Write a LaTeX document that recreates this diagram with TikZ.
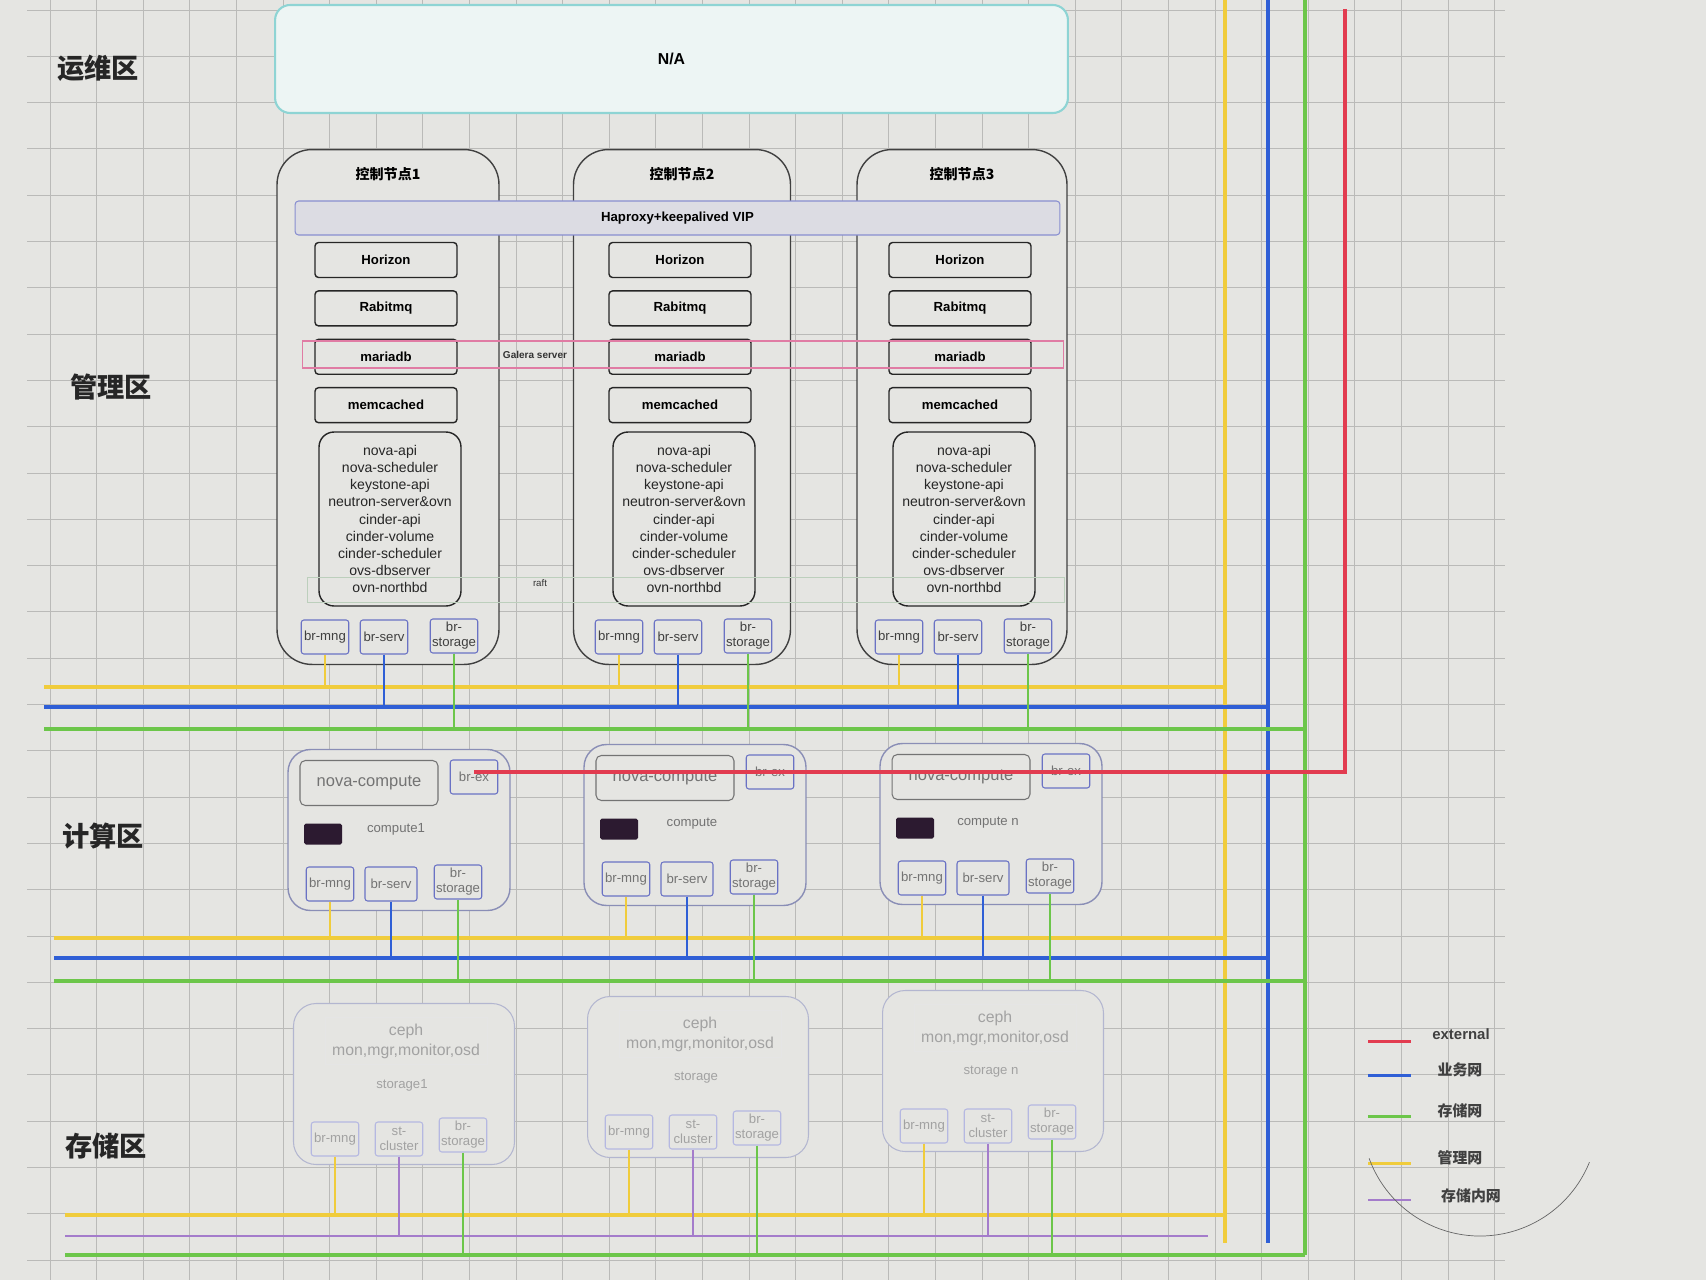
\documentclass[tikz,border=0pt]{standalone}
\usepackage{fontspec}
\setmainfont{Liberation Sans}
\newfontfamily\cjk{Noto Sans CJK SC}
\usetikzlibrary{positioning}
\definecolor{bgpaper}{HTML}{E5E5E2}
\definecolor{gridln}{HTML}{BABAB8}
\definecolor{mngnet}{HTML}{F0CC3C}
\definecolor{servnet}{HTML}{2F5FD6}
\definecolor{stornet}{HTML}{6CC64A}
\definecolor{extnet}{HTML}{E23C50}
\definecolor{clusnet}{HTML}{A47CCB}
\definecolor{naline}{HTML}{8ED4D4}
\definecolor{brline}{HTML}{6A72C4}
\definecolor{compline}{HTML}{8A8EB6}
\definecolor{galline}{HTML}{E07CA4}
\definecolor{raftline}{HTML}{BCCFBC}
\definecolor{darkbox}{HTML}{2C1A30}
\definecolor{fadetext}{HTML}{A2A2A2}
\tikzset{
    % grid of the drawing canvas
    gridline/.style={draw=gridln, line width=0.5pt},
    % zone titles on the left
    zone/.style={font=\cjk\bfseries\fontsize{15.5}{18}\selectfont, text=black!85},
    % operations area box
    nabox/.style={
           rectangle,
           rounded corners=0.3cm,
           draw=naline, line width=1.2pt, fill=bgpaper!92!cyan!40!white,
           font=\bfseries\fontsize{9}{11}\selectfont},
    % outer box of a control node
    ctrlbox/.style={
           rectangle,
           rounded corners=0.7cm,
           draw=black!75, thick, fill=bgpaper,
           minimum height=10.3cm},
    ctrltitle/.style={font=\cjk\bfseries\fontsize{8}{9}\selectfont},
    svc/.style={
           rectangle,
           rounded corners=2pt,
           draw=black!85, thick,
           minimum width=2.84cm,
           minimum height=0.7cm,
           font=\bfseries\fontsize{7.5}{9}\selectfont},
    svclist/.style={
           rectangle,
           rounded corners=0.3cm,
           draw=black!85, thick,
           minimum width=2.84cm,
           minimum height=3.48cm,
           align=center, text=black!85,
           font=\fontsize{8}{9.75}\selectfont},
    brbox/.style={
           rectangle,
           rounded corners=1.5pt,
           draw=brline, semithick,
           minimum width=0.95cm,
           minimum height=0.68cm,
           inner sep=0pt, align=center, text=black!75,
           font=\fontsize{7.5}{8.5}\selectfont},
    vipbar/.style={
           rectangle,
           rounded corners=2pt,
           draw=brline!80, semithick, fill=bgpaper!96!blue,
           minimum width=15.3cm,
           minimum height=0.68cm,
           font=\bfseries\fontsize{7.5}{9}\selectfont},
    galerabox/.style={rectangle, draw=galline, semithick,
           minimum width=15.24cm, minimum height=0.54cm},
    raftbox/.style={rectangle, draw=raftline, semithick,
           minimum width=15.16cm, minimum height=0.5cm},
    tinylabel/.style={font=\bfseries\fontsize{5.7}{7}\selectfont, text=black!80},
    % compute nodes
    compbox/.style={
           rectangle,
           rounded corners=0.45cm,
           draw=compline, thick, fill=bgpaper,
           minimum width=4.44cm,
           minimum height=3.22cm},
    novabox/.style={
           rectangle,
           rounded corners=3pt,
           draw=black!55, semithick,
           minimum width=2.76cm,
           minimum height=0.9cm,
           text=black!55,
           font=\fontsize{9.4}{11}\selectfont},
    vmblock/.style={rectangle, rounded corners=1pt, fill=darkbox,
           minimum width=0.76cm, minimum height=0.42cm},
    complabel/.style={text=black!55, font=\fontsize{7.5}{9}\selectfont},
    % storage nodes
    stobox/.style={
           rectangle,
           rounded corners=0.45cm,
           draw=compline!65, semithick, fill=bgpaper,
           minimum width=4.42cm,
           minimum height=3.22cm},
    cephbox/.style={
           rectangle,
           draw=black!10,
           minimum width=3.24cm,
           minimum height=0.88cm,
           align=center, text=fadetext,
           font=\fontsize{9}{11.4}\selectfont},
    stolabel/.style={text=fadetext, font=\fontsize{7.5}{9}\selectfont},
    stobr/.style={brbox, draw=brline!50, text=fadetext},
    % network lines
    mngbus/.style={draw=mngnet, line width=1.8pt},
    servbus/.style={draw=servnet, line width=2.3pt},
    storbus/.style={draw=stornet, line width=2pt},
    extbus/.style={draw=extnet, line width=2.2pt},
    clusbus/.style={draw=clusnet, line width=1.6pt},
    mngdrop/.style={draw=mngnet, line width=0.9pt},
    servdrop/.style={draw=servnet, line width=1.3pt},
    stordrop/.style={draw=stornet, line width=0.9pt},
    clusdrop/.style={draw=clusnet, line width=1.2pt},
    legtext/.style={text=black!75, font=\bfseries\fontsize{8.5}{10}\selectfont},
    legcjk/.style={legtext, font=\cjk\bfseries\fontsize{8.5}{10}\selectfont}
}
\begin{document}
\begin{tikzpicture}[x=0.02cm, y=-0.02cm, node distance=0.24cm]
\useasboundingbox (0,0) rectangle (1706,1280);
\fill[bgpaper] (0,0) rectangle (1706,1280);
% canvas grid
\foreach \k in {0,...,31}
  \draw[gridline] (50+46.6*\k,0) -- (50+46.6*\k,1280);
\foreach \k in {0,...,27}
  \draw[gridline] (27,10+46.3*\k) -- (1505,10+46.3*\k);

% zones
\node[zone] (zops) at (98,68) {运维区};
\node[zone] (zmgmt) at (111,387) {管理区};
\node[zone] (zcomp) at (103,836) {计算区};
\node[zone] (zstor) at (106,1146) {存储区};

\node[nabox, minimum width=15.86cm, minimum height=2.16cm] (na) at (671.5,59) {N/A};

% control nodes
\foreach \i/\cx/\w in {1/388/4.44cm, 2/682/4.34cm, 3/962/4.2cm}{
  \node[ctrlbox, minimum width=\w] (ctrl\i) at (\cx,407) {};
  \node[ctrltitle] (ctrlt\i) at (\cx,174) {控制节点\i};
  \node[svc] (hor\i) at (\cx-2,260) {Horizon};
  \node[svc, below=of hor\i] (rab\i) {Rabitmq};
  \node[svc, below=of rab\i] (maria\i) {mariadb};
  \node[svc, below=of maria\i] (mem\i) {memcached};
  \node[svclist] (list\i) at (\cx+2,519) {nova-api\\nova-scheduler\\keystone-api\\neutron-server\&ovn\\cinder-api\\cinder-volume\\cinder-scheduler\\ovs-dbserver\\ovn-northbd};
  \node[brbox] (cmng\i) at (\cx-63,637) {br-mng};
  \node[brbox] (cserv\i) at (\cx-4,637) {br-serv};
  \node[brbox] (cstor\i) at (\cx+66,636) {br-\\storage};
}
\node[vipbar] (vip) at (677.5,218) {Haproxy+keepalived VIP};
\node[galerabox] (gal) at (683,354.5) {};
\node[tinylabel] (galtxt) at (535,355) {Galera server};
\node[raftbox] (raft) at (686,590) {};
\node[tinylabel, font=\fontsize{5.5}{7}\selectfont] (rafttxt) at (540,583) {raft};

% compute nodes
\foreach \i/\lx/\ty/\lab in {1/288/749/compute1, 2/584/744/compute, 3/880/743/compute n}{
  \node[compbox] (comp\i) at (\lx+111,\ty+81) {};
  \node[novabox] (nova\i) at (\lx+81,\ty+34) {nova-compute};
  \node[brbox, text=black!55] (brex\i) at (\lx+186,\ty+28) {br-ex};
  \node[vmblock] (vm\i) at (\lx+35,\ty+85) {};
  \node[complabel] (clab\i) at (\lx+108,\ty+80) {\lab};
  \node[brbox, text=black!55] (kmng\i) at (\lx+42,\ty+135) {br-mng};
  \node[brbox, text=black!55, minimum width=1.04cm] (kserv\i) at (\lx+103,\ty+135) {br-serv};
  \node[brbox, text=black!55] (kstor\i) at (\lx+170,\ty+133) {br-\\storage};
}

% storage nodes
\foreach \i/\lx/\ty/\lab in {1/294/1003/storage1, 2/588/996/storage, 3/883/990/storage n}{
  \node[stobox] (sto\i) at (\lx+110,\ty+81) {};
  \node[cephbox] (ceph\i) at (\lx+112,\ty+38) {ceph\\mon,mgr,monitor,osd};
  \node[stolabel] (slab\i) at (\lx+108,\ty+82) {\lab};
  \node[stobr] (smng\i) at (\lx+41,\ty+136) {br-mng};
  \node[stobr] (sclus\i) at (\lx+105,\ty+136) {st-\\cluster};
  \node[stobr] (sstor\i) at (\lx+169,\ty+132) {br-\\storage};
}

% trunks on the right
\coordinate (ytop) at (1225,0);
\coordinate (ybot) at (1225,1243);
\coordinate (btop) at (1268,0);
\coordinate (bbot) at (1268,1243);
\coordinate (gtop) at (1305,0);
\coordinate (gbot) at (1305,1255);
\coordinate (rtop) at (1345,9);
\coordinate (rcorner) at (1345,772);
\draw[mngbus] (ytop) -- (ybot);
\draw[servbus] (btop) -- (bbot);
\draw[storbus] (gtop) -- (gbot);

% buses of each zone
\coordinate (cy) at (44,687);
\coordinate (cb) at (44,707);
\coordinate (cg) at (44,729);
\coordinate (ky) at (54,938);
\coordinate (kb) at (54,958);
\coordinate (kg) at (54,981);
\coordinate (sy) at (65,1215);
\coordinate (sp) at (65,1236);
\coordinate (spend) at (1208,1236);
\coordinate (sg) at (65,1255);
\draw[mngbus] (cy) -- (cy -| ytop);
\draw[servbus] (cb) -- (cb -| btop);
\draw[storbus] (cg) -- (cg -| gtop);
\draw[mngbus] (ky) -- (ky -| ytop);
\draw[servbus] (kb) -- (kb -| btop);
\draw[storbus] (kg) -- (kg -| gtop);
\draw[mngbus] (sy) -- (sy -| ytop);
\draw[clusbus] (sp) -- (spend);
\draw[storbus] (sg) -- (gbot);

\foreach \i in {1,2,3}{
  \draw[mngdrop] (cmng\i.south) -- (cmng\i.south |- cy);
  \draw[servdrop] (cserv\i.south) -- (cserv\i.south |- cb);
  \draw[stordrop] (cstor\i.south) -- (cstor\i.south |- cg);
  \draw[mngdrop] (kmng\i.south) -- (kmng\i.south |- ky);
  \draw[servdrop] (kserv\i.south) -- (kserv\i.south |- kb);
  \draw[stordrop] (kstor\i.south) -- (kstor\i.south |- kg);
  \draw[mngdrop] (smng\i.south) -- (smng\i.south |- sy);
  \draw[clusdrop] (sclus\i.south) -- (sclus\i.south |- sp);
  \draw[stordrop] (sstor\i.south) -- (sstor\i.south |- sg);
}

% external network
\draw[extbus] (rtop) -- (rcorner) -- (rcorner -| brex1.center);

% legend
\node[legtext] (lgext) at (1461,1034) {external};
\node[legcjk] (lgserv) at (1460,1070) {业务网};
\node[legcjk] (lgstor) at (1460,1111) {存储网};
\node[legcjk] (lgmng) at (1460,1158) {管理网};
\node[legcjk] (lgclus) at (1471,1196) {存储内网};
\coordinate (lgA) at (1368,1041);
\coordinate (lgB) at (1368,1075);
\coordinate (lgC) at (1368,1116);
\coordinate (lgD) at (1368,1163);
\coordinate (lgE) at (1368,1200);
\draw[extbus, line width=1.7pt] (lgA) -- ++(43,0);
\draw[servbus, line width=1.7pt] (lgB) -- ++(43,0);
\draw[storbus, line width=1.7pt] (lgC) -- ++(43,0);
\draw[mngbus, line width=1.7pt] (lgD) -- ++(43,0);
\draw[clusbus, line width=1.4pt] (lgE) -- ++(43,0);
\coordinate (arcC) at (1480,1118);
\draw[black!60, thin] (arcC) ++(160:118) arc[start angle=160, end angle=22, radius=118];
\end{tikzpicture}
\end{document}
